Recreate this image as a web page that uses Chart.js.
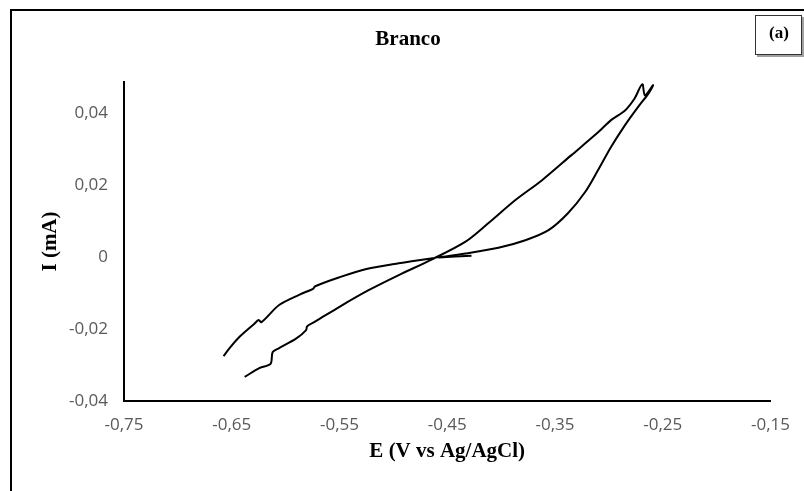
<!DOCTYPE html>
<html>
<head>
<meta charset="utf-8">
<script src="https://cdn.jsdelivr.net/npm/chart.js@4.4.1/dist/chart.umd.min.js"></script>
<style>
    html, body { margin: 0; padding: 0; background: #fff; }
    #cvChart { display: block; }
</style>
</head>
<body>
<canvas id="cvChart" width="804" height="491"></canvas>
<script>
// ===========================
// Cyclic voltammogram - "Branco"
// ===========================

// Main scan: lower branch up to the vertex, back along the upper branch
const scanE = [
    -0.638, -0.624, -0.614, -0.612, -0.606, -0.590, -0.581, -0.580, -0.572, -0.550,
    -0.523, -0.495, -0.464, -0.433, -0.412, -0.387, -0.362, -0.335, -0.310, -0.298,
    -0.285, -0.276, -0.269, -0.2665, -0.259, -0.263, -0.273, -0.285, -0.298, -0.310,
    -0.322, -0.338, -0.356, -0.3775, -0.4025, -0.433, -0.464, -0.495, -0.525, -0.550,
    -0.5725, -0.5745, -0.587, -0.606, -0.6225, -0.625, -0.629, -0.643, -0.652, -0.6576
];
const scanI = [
    -0.0333, -0.0308, -0.0297, -0.0264, -0.0253, -0.0226, -0.0203, -0.0192, -0.0178, -0.0138,
    -0.0092, -0.0050, -0.0006, 0.0043, 0.0094, 0.0158, 0.0214, 0.0283, 0.0347, 0.0381,
    0.0408, 0.0442, 0.0481, 0.0450, 0.0478, 0.0456, 0.0417, 0.0367, 0.0306, 0.0242,
    0.0181, 0.0122, 0.0075, 0.0047, 0.0026, 0.0010, -0.0003, -0.0017, -0.0033, -0.0056,
    -0.0081, -0.0088, -0.0104, -0.0133, -0.0181, -0.0175, -0.0185, -0.0222, -0.0253, -0.0275
];

// Short start segment near open circuit potential
const tailE = [-0.4275, -0.4579];
const tailI = [0.0004, -0.0001];

const xTicks = [-0.75, -0.65, -0.55, -0.45, -0.35, -0.25, -0.15];
const yTicks = [-0.04, -0.02, 0, 0.02, 0.04];

const chartTitle = 'Branco';
const panelTag = '(a)';
const xTitle = 'E (V vs Ag/AgCl)';
const yTitle = 'I (mA)';

function toPoints(xs, ys) {
    return xs.map((x, i) => ({ x: x, y: ys[i] }));
}

function formatTick(value) {
    if (Math.abs(value) < 1e-9) return '0';
    return value.toFixed(2).replace('.', ',');
}

const serifBold = { family: '"Liberation Serif", "Times New Roman", serif', size: 21, weight: 'bold' };
const tickFont = { family: '"Open Sans", sans-serif', size: 17 };

// Frame, title and panel tag drawn straight onto the canvas
const decorations = {
    id: 'decorations',
    afterDraw(chart) {
        const ctx = chart.ctx;
        ctx.save();

        // outer frame
        ctx.strokeStyle = '#000';
        ctx.lineWidth = 2;
        ctx.beginPath();
        ctx.moveTo(11, 491);
        ctx.lineTo(11, 10);
        ctx.lineTo(804, 10);
        ctx.stroke();

        // title
        ctx.fillStyle = '#000';
        ctx.font = 'bold 21px "Liberation Serif", "Times New Roman", serif';
        ctx.textAlign = 'center';
        ctx.textBaseline = 'middle';
        ctx.fillText(chartTitle, 408, 40);

        // panel tag box with a thin shadow
        ctx.fillStyle = '#a0a0a0';
        ctx.fillRect(757, 17, 47, 40);
        ctx.fillStyle = '#fff';
        ctx.fillRect(755, 15, 47, 40);
        ctx.strokeStyle = '#333';
        ctx.lineWidth = 1;
        ctx.strokeRect(755.5, 15.5, 46, 39);
        ctx.fillStyle = '#000';
        ctx.font = 'bold 17px "Liberation Serif", "Times New Roman", serif';
        ctx.fillText(panelTag, 779, 34);

        ctx.restore();
    }
};

const ctx = document.getElementById('cvChart').getContext('2d');

const lineStyle = {
    showLine: true,
    borderColor: '#000',
    borderWidth: 2,
    pointRadius: 0,
    tension: 0.3
};

new Chart(ctx, {
    type: 'scatter',
    data: {
        datasets: [
            Object.assign({ data: toPoints(scanE, scanI) }, lineStyle),
            Object.assign({ data: toPoints(tailE, tailI) }, lineStyle)
        ]
    },
    options: {
        responsive: false,
        animation: false,
        layout: {
            padding: { left: 12, right: 31, top: 82, bottom: 10 }
        },
        plugins: {
            legend: { display: false },
            tooltip: { enabled: false }
        },
        scales: {
            x: {
                type: 'linear',
                min: -0.75,
                max: -0.15,
                afterBuildTicks: scale => {
                    scale.ticks = xTicks.map(v => ({ value: v }));
                },
                afterFit: scale => {
                    scale.height = 80;
                },
                grid: { display: false, drawTicks: false },
                border: { display: true, color: '#000', width: 2 },
                ticks: {
                    color: '#595959',
                    font: tickFont,
                    padding: 14,
                    maxRotation: 0,
                    callback: value => formatTick(value)
                },
                title: {
                    display: true,
                    text: xTitle,
                    color: '#000',
                    font: serifBold,
                    padding: { top: 0, bottom: 17 }
                }
            },
            y: {
                type: 'linear',
                min: -0.04,
                max: 0.0487,
                afterBuildTicks: scale => {
                    scale.ticks = yTicks.map(v => ({ value: v }));
                },
                afterFit: scale => {
                    scale.width = 112;
                },
                grid: { display: false, drawTicks: false },
                border: { display: true, color: '#000', width: 2 },
                ticks: {
                    color: '#595959',
                    font: tickFont,
                    padding: 16,
                    callback: value => formatTick(value)
                },
                title: {
                    display: true,
                    text: yTitle,
                    color: '#000',
                    font: serifBold,
                    padding: { top: 26, bottom: 0 }
                }
            }
        }
    },
    plugins: [decorations]
});
</script>
</body>
</html>
